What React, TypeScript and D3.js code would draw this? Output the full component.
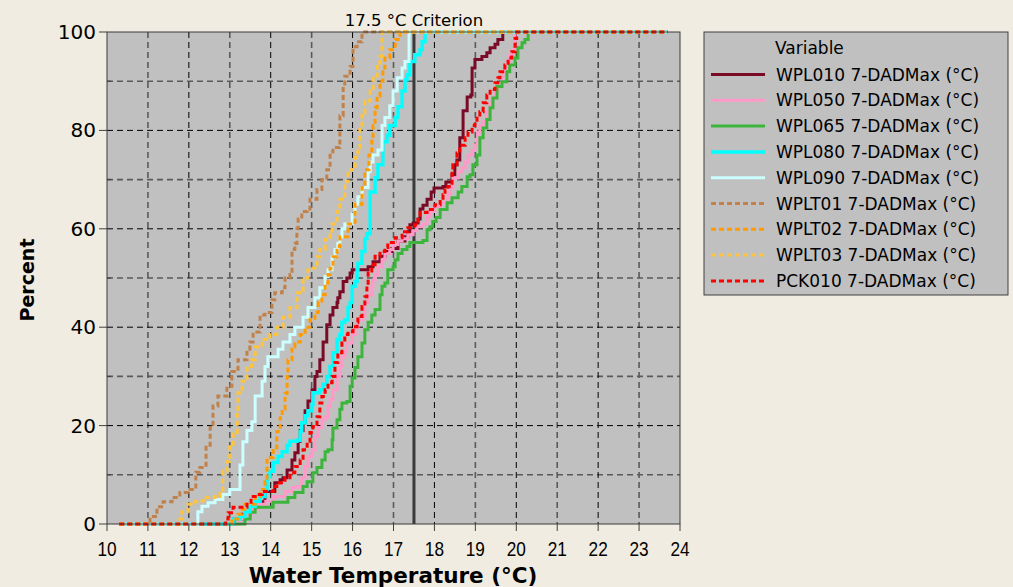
import React from 'react';
import * as d3 from 'd3';

const W = 1013;
const H = 587;

// Axis ticks
const X_TICKS = [10, 11, 12, 13, 14, 15, 16, 17, 18, 19, 20, 21, 22, 23, 24];
const Y_TICKS = [0, 20, 40, 60, 80, 100];
const Y_MINOR = [10, 30, 50, 70, 90];
const CRITERION = 17.5;
const X_START = 10.3;
const X_END = 23.7;

// Empirical CDF steps: [temperature °C, cumulative percent]
const WPL010: [number, number][] = [
  [13.1, 1], [13.3, 2], [13.5, 3.5], [13.7, 4.5], [13.86, 6.6], [14.1, 8.4], [14.23, 9], [14.3, 9.4],
  [14.4, 11], [14.52, 13], [14.59, 14.5], [14.67, 16.8], [14.72, 19], [14.79, 20.6], [14.84, 23],
  [14.91, 25], [15.01, 27.3], [15.08, 30], [15.13, 31], [15.2, 33.4], [15.28, 37], [15.37, 40.5],
  [15.45, 42.5], [15.52, 44], [15.62, 45], [15.64, 46], [15.69, 47.2], [15.77, 49.3], [15.86, 50],
  [15.94, 51], [15.99, 51.7], [16.38, 52.3], [16.5, 53.3], [16.67, 54.4], [16.79, 55.4], [16.96, 56],
  [17.11, 57.5], [17.28, 58.4], [17.35, 59.4], [17.4, 60.8], [17.48, 61.2], [17.6, 62], [17.65, 64],
  [17.72, 64.8], [17.82, 66], [17.92, 67.5], [17.99, 68.3], [18.21, 68.6], [18.28, 69.5], [18.43, 71],
  [18.5, 73], [18.55, 74], [18.62, 78.5], [18.7, 84], [18.8, 86.8], [18.89, 87.2], [18.92, 92.7],
  [18.99, 94.4], [19.16, 95], [19.28, 95.8], [19.36, 96.8], [19.48, 97.5], [19.55, 98.5], [19.67, 100],
];
const WPL050: [number, number][] = [
  [13.25, 1], [13.4, 2], [13.54, 3], [13.69, 4], [13.88, 4.6], [14.06, 5.6], [14.35, 6.6], [14.52, 7.4],
  [14.64, 7.6], [14.76, 9.4], [14.84, 11.7], [14.91, 13.7], [15.01, 15.1], [15.08, 17.8], [15.16, 19.6],
  [15.25, 21.2], [15.33, 21.8], [15.4, 23.9], [15.45, 25.3], [15.52, 27.3], [15.62, 30], [15.69, 32],
  [15.74, 34], [15.81, 35], [15.86, 36.8], [15.99, 38.5], [16.06, 40], [16.13, 41.5], [16.25, 42.2],
  [16.3, 45], [16.38, 46.6], [16.47, 48.3], [16.5, 49.6], [16.55, 50.7], [16.62, 52.3], [16.72, 53.7],
  [16.79, 55], [16.91, 55.8], [16.99, 56.8], [17.11, 57.5], [17.21, 58], [17.35, 58.8], [17.48, 59.6],
  [17.57, 60.4], [17.7, 61], [17.82, 62.5], [17.89, 63.5], [17.99, 64.5], [18.14, 65.3], [18.33, 67],
  [18.38, 68.3], [18.45, 70.3], [18.58, 71.6], [18.67, 72.4], [18.75, 73.6], [18.82, 75], [18.92, 76],
  [18.99, 77], [19.04, 78], [19.06, 79.7], [19.11, 81], [19.19, 81.8], [19.28, 83.8], [19.36, 85.2],
  [19.41, 86.6], [19.48, 88], [19.55, 88.9], [19.65, 89.8], [19.67, 91.7], [19.72, 92.7], [19.8, 94],
  [19.84, 95.4], [19.92, 96.4], [19.97, 100],
];
const WPL065: [number, number][] = [
  [13.37, 1], [13.5, 2.4], [13.62, 3.4], [14.06, 4.4], [14.42, 5.4], [14.59, 6.4], [14.79, 7.6],
  [14.89, 8.6], [15.03, 10.4], [15.13, 11.5], [15.25, 13], [15.33, 14.7], [15.4, 15.1], [15.5, 17.1],
  [15.52, 19.5], [15.62, 21.2], [15.69, 23.3], [15.74, 24.6], [15.86, 24.9], [15.94, 28], [15.99, 29.7],
  [16.06, 31.8], [16.13, 34], [16.23, 36.8], [16.3, 39.5], [16.38, 41], [16.47, 42.5], [16.55, 43.6],
  [16.67, 46.6], [16.72, 48.3], [16.79, 49], [16.86, 51.7], [16.99, 52.3], [17.04, 53.7], [17.11, 55],
  [17.21, 55.8], [17.33, 56.4], [17.4, 57.2], [17.72, 57.6], [17.82, 59.8], [17.89, 60.4], [17.96, 61.5],
  [18.04, 62.3], [18.14, 63.9], [18.31, 65.3], [18.43, 66.3], [18.58, 67.5], [18.67, 68.6], [18.8, 70.6],
  [18.87, 71], [18.94, 73], [19.04, 75], [19.11, 78.5], [19.19, 80.5], [19.28, 82.2], [19.36, 84.6],
  [19.43, 86.6], [19.53, 88.9], [19.65, 89.9], [19.77, 91.9], [19.84, 93.3], [19.97, 94.7], [20.04, 96.8],
  [20.14, 97.8], [20.21, 98.5], [20.29, 100],
];
const WPL080: [number, number][] = [
  [13.08, 1], [13.25, 1.5], [13.37, 2.5], [13.49, 3.6], [13.62, 4.6], [13.74, 5.6], [13.86, 7],
  [13.91, 9.6], [13.98, 10.7], [14.06, 12.5], [14.18, 13.7], [14.28, 14.7], [14.4, 16], [14.47, 16.8],
  [14.64, 17], [14.72, 18.8], [14.76, 20.6], [14.84, 22], [14.91, 23], [15.01, 24.3], [15.03, 26.7],
  [15.2, 27.3], [15.28, 28.4], [15.37, 30], [15.45, 32], [15.52, 34.8], [15.62, 37.5], [15.69, 38.5],
  [15.74, 41], [15.81, 41.5], [15.89, 44], [15.94, 45], [15.99, 48.3], [16.06, 49.3], [16.11, 51.7],
  [16.13, 53], [16.23, 55.4], [16.3, 58], [16.35, 59], [16.43, 67.5], [16.55, 70.4], [16.62, 73],
  [16.74, 77.7], [16.84, 79], [16.91, 81], [17.04, 82.6], [17.11, 84.8], [17.21, 88], [17.28, 90.3],
  [17.33, 91.3], [17.4, 94], [17.52, 95.4], [17.65, 96.4], [17.7, 98], [17.77, 100],
];
const WPL090: [number, number][] = [
  [12.22, 2.5], [12.32, 3.6], [12.47, 4.3], [12.64, 5], [12.83, 6], [13.0, 7], [13.25, 12], [13.32, 16.7],
  [13.42, 19], [13.54, 20.8], [13.62, 26], [13.79, 29], [13.86, 32], [13.93, 34], [14.18, 35.5],
  [14.3, 37], [14.47, 38.5], [14.59, 40], [14.79, 42], [14.91, 44], [15.08, 46], [15.2, 48], [15.33, 50.3],
  [15.4, 51.7], [15.5, 54.3], [15.57, 55.8], [15.64, 57], [15.69, 58.4], [15.74, 60], [15.81, 61],
  [15.99, 63], [16.06, 65], [16.13, 66.5], [16.23, 68.4], [16.38, 71.6], [16.43, 73.6], [16.5, 75],
  [16.62, 76], [16.72, 81], [16.79, 82.6], [16.91, 85], [16.99, 88], [17.09, 90.7], [17.21, 92.7],
  [17.28, 94], [17.38, 100],
];
const WPLT01: [number, number][] = [
  [11.05, 1.5], [11.22, 3.5], [11.37, 4.5], [11.59, 5.4], [11.78, 6.4], [12.03, 7], [12.17, 10.5],
  [12.27, 11.5], [12.42, 16], [12.52, 19.6], [12.59, 24], [12.71, 26], [12.93, 28], [13.05, 31],
  [13.2, 33.4], [13.42, 35.5], [13.49, 37], [13.57, 39], [13.74, 42.5], [13.86, 43], [14.03, 45.6],
  [14.1, 47], [14.28, 48], [14.35, 50], [14.47, 50.7], [14.52, 55.8], [14.59, 57], [14.64, 60],
  [14.67, 62], [14.76, 63.5], [14.89, 64], [14.96, 66], [15.13, 68], [15.25, 70], [15.37, 72],
  [15.45, 75.6], [15.52, 76.5], [15.69, 83], [15.77, 89], [15.81, 91], [15.94, 93], [16.01, 97],
  [16.11, 98], [16.23, 100],
];
const WPLT02: [number, number][] = [
  [13.05, 1], [13.2, 2], [13.3, 3], [13.37, 4], [13.62, 5.6], [13.74, 7], [13.86, 8.6], [13.91, 13.5],
  [14.06, 15.5], [14.15, 18.8], [14.23, 21.6], [14.28, 23.3], [14.35, 26.5], [14.4, 30], [14.42, 33.4],
  [14.52, 36], [14.59, 37], [14.72, 38.5], [14.84, 40], [14.96, 41.5], [15.08, 43], [15.16, 45],
  [15.25, 46.6], [15.33, 49], [15.4, 50.7], [15.45, 52], [15.52, 54.3], [15.62, 56.4], [15.69, 58.4],
  [15.89, 61], [16.06, 65], [16.23, 68.4], [16.3, 72], [16.4, 75], [16.47, 78.5], [16.5, 81],
  [16.55, 84.6], [16.6, 87], [16.67, 90], [16.74, 92.7], [16.79, 94.7], [16.91, 96.4], [17.04, 98.5],
  [17.16, 100],
];
const WPLT03: [number, number][] = [
  [11.78, 1], [11.83, 2.5], [11.98, 4], [12.15, 4.6], [12.35, 5.4], [12.64, 5.6], [12.76, 6.6],
  [12.83, 10.7], [12.93, 12.7], [13.0, 15.7], [13.08, 18.6], [13.18, 23], [13.2, 26.7], [13.3, 29],
  [13.42, 32], [13.54, 33.4], [13.62, 36], [13.79, 37.5], [13.98, 38.5], [14.15, 40], [14.3, 42],
  [14.47, 44], [14.64, 47], [14.79, 50], [14.91, 51.7], [15.03, 52], [15.13, 54.3], [15.2, 55.8],
  [15.33, 57.8], [15.45, 58.8], [15.5, 61], [15.62, 63.5], [15.69, 66], [15.81, 69.6], [15.89, 72],
  [16.06, 74.5], [16.13, 76.5], [16.18, 81], [16.23, 83.5], [16.3, 86], [16.43, 88], [16.5, 91],
  [16.6, 93], [16.67, 95], [16.72, 100],
];
const PCK010: [number, number][] = [
  [12.9, 1], [12.96, 2.3], [13.08, 3.4], [13.42, 4.4], [13.52, 5.6], [13.62, 6], [13.79, 6.6],
  [14.06, 7.6], [14.15, 8.4], [14.35, 9.4], [14.47, 10.4], [14.59, 11.7], [14.72, 13], [14.79, 15.1],
  [14.89, 16.8], [14.96, 18.6], [15.03, 19.8], [15.13, 21.8], [15.2, 24.6], [15.25, 25.9], [15.33, 27.3],
  [15.4, 28.7], [15.5, 30], [15.57, 32.8], [15.64, 34.8], [15.74, 36.8], [15.81, 38.5], [15.89, 39.1],
  [16.01, 40.1], [16.11, 41], [16.13, 42.2], [16.23, 44.2], [16.3, 46.2], [16.35, 48.3], [16.38, 51],
  [16.47, 52.7], [16.55, 54.4], [16.67, 55.4], [16.79, 56.2], [16.86, 57.2], [17.04, 58.2], [17.21, 59.4],
  [17.35, 60.2], [17.52, 60.8], [17.6, 61.9], [17.65, 63.3], [17.82, 63.9], [18.01, 64.9], [18.14, 65.9],
  [18.21, 66.9], [18.26, 67.9], [18.33, 68.6], [18.43, 71.6], [18.45, 73], [18.55, 75.4], [18.62, 77],
  [18.75, 78.5], [18.82, 79.7], [18.92, 81], [18.99, 81.6], [19.04, 82.8], [19.11, 83.8], [19.19, 85.6],
  [19.28, 87.2], [19.36, 88.3], [19.48, 89.7], [19.55, 90.7], [19.6, 91.9], [19.72, 93.3], [19.8, 94.7],
  [19.89, 96], [19.97, 98.7], [20.01, 100],
];

const SERIES_NAMES = [
  'WPL010 7-DADMax (°C)', 'WPL050 7-DADMax (°C)', 'WPL065 7-DADMax (°C)', 'WPL080 7-DADMax (°C)',
  'WPL090 7-DADMax (°C)', 'WPLT01 7-DADMax (°C)', 'WPLT02 7-DADMax (°C)', 'WPLT03 7-DADMax (°C)',
  'PCK010 7-DADMax (°C)',
];
const SERIES_DATA = [WPL010, WPL050, WPL065, WPL080, WPL090, WPLT01, WPLT02, WPLT03, PCK010];

const STYLES = [
  { color: '#7a0a26', width: 3, dash: '' },
  { color: '#ff9ac8', width: 3, dash: '' },
  { color: '#3db53d', width: 3, dash: '' },
  { color: '#00ffff', width: 3.5, dash: '' },
  { color: '#ccffff', width: 3, dash: '' },
  { color: '#c0814a', width: 3, dash: '5,3' },
  { color: '#ff9a00', width: 3, dash: '5,3' },
  { color: '#ffc43a', width: 3, dash: '5,3' },
  { color: '#ff0000', width: 3, dash: '5,3' },
];

const PL = 107, PR = 680, PT = 32, PB = 524;

export default function App() {
  const x = d3.scaleLinear().domain([10, 24]).range([PL, PR]);
  const y = d3.scaleLinear().domain([0, 100]).range([PB, PT]);
  const line = d3
    .line<[number, number]>()
    .x((d) => x(d[0]))
    .y((d) => y(d[1]))
    .curve(d3.curveStepAfter);

  const paths = SERIES_DATA.map((data) => {
    const pts: [number, number][] = [[X_START, 0], ...data, [X_END, 100]];
    return line(pts) || '';
  });

  const legX = 704;
  const legY = 32;
  const rowY = (i: number) => 74.5 + i * 25.8;

  return (
    <div style={{ position: 'absolute', left: 0, top: 0 }}>
      <svg width={W} height={H} style={{ display: 'block', background: '#f0ece1' }}>
        <rect x={0} y={0} width={W} height={H} fill="#f0ece1" />
        {/* plot background */}
        <rect x={PL} y={PT} width={PR - PL} height={PB - PT} fill="#c0c0c0" />
        {/* minor gridlines */}
        {Y_MINOR.map((v) => (
          <line key={'ym' + v} x1={PL} x2={PR} y1={y(v)} y2={y(v)} stroke="#5a5a5a" strokeWidth={1.6} strokeDasharray="6,4" />
        ))}
        {X_TICKS.filter((v) => v > 10 && v < 24 && v % 2 === 1).map((v) => (
          <line key={'xm' + v} x1={x(v)} x2={x(v)} y1={PT} y2={PB} stroke="#5a5a5a" strokeWidth={1.6} strokeDasharray="6,4" />
        ))}
        {/* major gridlines */}
        {Y_TICKS.filter((v) => v > 0 && v < 100).map((v) => (
          <line key={'yg' + v} x1={PL} x2={PR} y1={y(v)} y2={y(v)} stroke="#000" strokeWidth={1} strokeDasharray="6,4" />
        ))}
        {X_TICKS.filter((v) => v > 10 && v < 24 && v % 2 === 0).map((v) => (
          <line key={'xg' + v} x1={x(v)} x2={x(v)} y1={PT} y2={PB} stroke="#000" strokeWidth={1} strokeDasharray="6,4" />
        ))}
        {/* criterion */}
        <line x1={x(CRITERION)} x2={x(CRITERION)} y1={PT} y2={PB} stroke="#3a3a3a" strokeWidth={3} />
        {/* series */}
        {paths.map((p, i) => (
          <path
            key={'s' + i}
            d={p}
            fill="none"
            stroke={STYLES[i].color}
            strokeWidth={STYLES[i].width}
            strokeDasharray={STYLES[i].dash || undefined}
          />
        ))}
        {/* frame */}
        <rect x={PL} y={PT} width={PR - PL} height={PB - PT} fill="none" stroke="#3a3a3a" strokeWidth={1} />
        {/* y axis ticks */}
        {Y_TICKS.map((v) => (
          <g key={'yt' + v}>
            <line x1={PL - 8} x2={PL} y1={y(v)} y2={y(v)} stroke="#404040" strokeWidth={1} />
            <text x={PL - 11} y={y(v) + 7} textAnchor="end" fontFamily="DejaVu Sans" fontSize={20} fill="#000">
              {v}
            </text>
          </g>
        ))}
        {Y_MINOR.map((v) => (
          <line key={'ymt' + v} x1={PL} x2={PL + 4} y1={y(v)} y2={y(v)} stroke="#404040" strokeWidth={1} />
        ))}
        {/* x axis ticks */}
        {X_TICKS.map((v) => (
          <g key={'xt' + v}>
            <line x1={x(v)} x2={x(v)} y1={PB} y2={PB + 7} stroke="#404040" strokeWidth={1} />
            <text
              transform={`translate(${x(v)},${PB + 32}) scale(0.82,1)`}
              textAnchor="middle"
              fontFamily="Liberation Sans"
              fontSize={21}
              fill="#000"
            >
              {v}
            </text>
          </g>
        ))}
        {/* axis titles */}
        <text x={393} y={583} textAnchor="middle" fontFamily="DejaVu Sans" fontWeight="bold" fontSize={21.5} fill="#000">
          Water Temperature (°C)
        </text>
        <text
          transform={`translate(34,280) rotate(-90)`}
          textAnchor="middle"
          fontFamily="DejaVu Sans"
          fontWeight="bold"
          fontSize={19}
          fill="#000"
        >
          Percent
        </text>
        <text x={x(CRITERION)} y={26} textAnchor="middle" fontFamily="DejaVu Sans" fontSize={16.5} fill="#000">
          17.5 °C Criterion
        </text>
        {/* legend */}
        <rect x={legX} y={legY} width={304} height={263} fill="#c0c0c0" stroke="#404040" strokeWidth={1} />
        <text x={775} y={54} fontFamily="DejaVu Sans" fontSize={17} fill="#000">
          Variable
        </text>
        {SERIES_NAMES.map((name, i) => (
          <g key={'lg' + i}>
            <line
              x1={711}
              x2={765}
              y1={rowY(i)}
              y2={rowY(i)}
              stroke={STYLES[i].color}
              strokeWidth={STYLES[i].width}
              strokeDasharray={STYLES[i].dash || undefined}
            />
            <text x={776} y={rowY(i) + 6} fontFamily="DejaVu Sans" fontSize={17} fill="#000">
              {name}
            </text>
          </g>
        ))}
      </svg>
    </div>
  );
}
